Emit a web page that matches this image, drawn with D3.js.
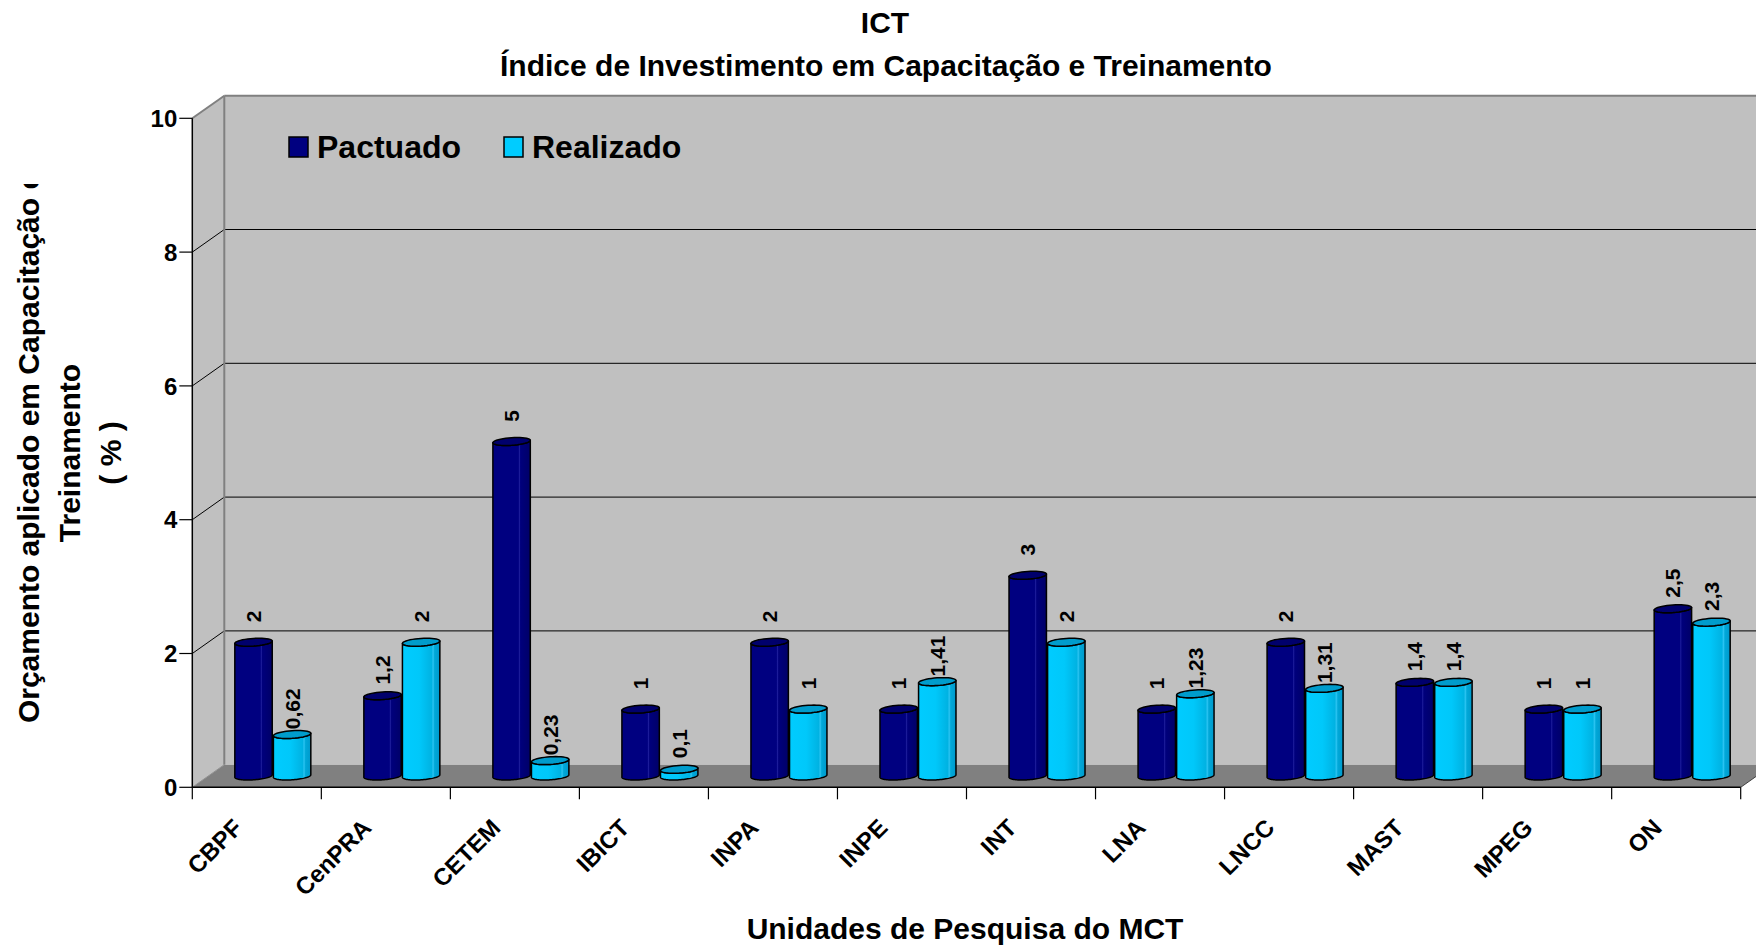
<!DOCTYPE html>
<html>
<head>
<meta charset="utf-8">
<script src="https://cdn.jsdelivr.net/npm/d3@7"></script>
<style>
  body { margin: 0; background: #fff; }
  svg { display: block; }
  text { font-family: "Liberation Sans", Arial, sans-serif; font-weight: bold; fill: #000; }
</style>
</head>
<body>
<div class="chart"></div>
<script>
var categories = ["CBPF", "CenPRA", "CETEM", "IBICT", "INPA", "INPE", "INT", "LNA", "LNCC", "MAST", "MPEG", "ON"];
var series = ["Pactuado", "Realizado"];
var pactuado = [2, 1.2, 5, 1, 2, 1, 3, 1, 2, 1.4, 1, 2.5];
var realizado = [0.62, 2, 0.23, 0.1, 1, 1.41, 2, 1.23, 1.31, 1.4, 1, 2.3];
var yTicks = [0, 2, 4, 6, 8, 10];

var width = 1756, height = 948;
var x0 = 192.3, x1 = 1740.7, yBottom = 787.3, yTop = 118.3;
var dx = 32, dy = 22.6;           // depth offset of the back wall
var pairWidth = 76;

var svg = d3.select(".chart").append("svg")
    .attr("width", width)
    .attr("height", height);

var defs = svg.append("defs");

function gradient(id, stops) {
    var g = defs.append("linearGradient").attr("id", id)
        .attr("x1", 0).attr("x2", 1).attr("y1", 0).attr("y2", 0);
    stops.forEach(function (s) {
        g.append("stop").attr("offset", s[0]).attr("stop-color", s[1]);
    });
}
gradient("gPact", [[0, "#000080"], [0.68, "#000080"], [0.71, "#1c1c9a"], [0.74, "#00007c"], [1, "#000068"]]);
gradient("gReal", [[0, "#00ccff"], [0.45, "#00c8fa"], [0.78, "#00b2e2"], [0.82, "#2ac4f2"], [0.86, "#00a8d8"], [1, "#0099cc"]]);

var colors = { Pactuado: "#000080", Realizado: "#00ccff" };
var bodyFill = { Pactuado: "url(#gPact)", Realizado: "url(#gReal)" };
var topFill = { Pactuado: "#00006c", Realizado: "#009ccc" };

var x = d3.scaleBand().domain(categories).range([x0, x1]);
var xs = d3.scaleBand().domain(series).range([0, pairWidth]).paddingInner(0.03);
var y = d3.scaleLinear().domain([0, 10]).range([yBottom, yTop]);

svg.append("clipPath").attr("id", "plotClip")
    .append("rect").attr("x", 0).attr("y", 0).attr("width", width).attr("height", height);

// walls and floor
var walls = svg.append("g");
walls.append("rect")
    .attr("x", x0 + dx).attr("y", yTop - dy)
    .attr("width", x1 - x0).attr("height", yBottom - yTop)
    .attr("fill", "#c0c0c0");
walls.append("path")
    .attr("d", d3.line()([[x0, yTop], [x0 + dx, yTop - dy], [x0 + dx, yBottom - dy], [x0, yBottom]]))
    .attr("fill", "#c0c0c0");
walls.append("path")
    .attr("d", d3.line()([[x0, yBottom], [x0 + dx, yBottom - dy], [x1 + dx, yBottom - dy], [x1, yBottom]]))
    .attr("fill", "#808080");

// gridlines on side and back walls
yTicks.filter(function (v) { return v > 0; }).forEach(function (v) {
    var c = v === 10 ? "#808080" : "#000";
    var w = v === 10 ? 2 : 1;
    walls.append("line")
        .attr("x1", x0).attr("y1", y(v)).attr("x2", x0 + dx).attr("y2", y(v) - dy)
        .attr("stroke", c).attr("stroke-width", w);
    walls.append("line")
        .attr("x1", x0 + dx).attr("y1", y(v) - dy).attr("x2", x1 + dx).attr("y2", y(v) - dy)
        .attr("stroke", c).attr("stroke-width", w);
});
walls.append("line")
    .attr("x1", x0 + dx).attr("y1", yTop - dy).attr("x2", x0 + dx).attr("y2", yBottom - dy)
    .attr("stroke", "#808080").attr("stroke-width", 2);
walls.append("line")
    .attr("x1", x0).attr("y1", yBottom).attr("x2", x0 + dx).attr("y2", yBottom - dy)
    .attr("stroke", "#909090").attr("stroke-width", 1);
walls.append("line")
    .attr("x1", x1).attr("y1", yBottom).attr("x2", x1 + dx).attr("y2", yBottom - dy)
    .attr("stroke", "#404040").attr("stroke-width", 1);

// y axis
var yAxis = svg.append("g");
yAxis.append("line")
    .attr("x1", x0).attr("y1", yTop).attr("x2", x0).attr("y2", yBottom)
    .attr("stroke", "#000").attr("stroke-width", 1.5);
yAxis.selectAll(".tick").data(yTicks).enter().append("line")
    .attr("x1", x0 - 13).attr("x2", x0)
    .attr("y1", function (d) { return y(d); }).attr("y2", function (d) { return y(d); })
    .attr("stroke", "#000").attr("stroke-width", 1.2);
yAxis.selectAll("text").data(yTicks).enter().append("text")
    .attr("x", x0 - 15)
    .attr("y", function (d) { return y(d); })
    .attr("dy", "0.36em")
    .attr("text-anchor", "end")
    .style("font-size", "24px")
    .text(function (d) { return d; });

// x axis
var xAxis = svg.append("g");
xAxis.append("line")
    .attr("x1", x0).attr("y1", yBottom).attr("x2", x1).attr("y2", yBottom)
    .attr("stroke", "#000").attr("stroke-width", 1.5);
var boundaries = categories.map(function (c) { return x(c); }).concat([x1]);
xAxis.selectAll(".tick").data(boundaries).enter().append("line")
    .attr("x1", function (d) { return d; }).attr("x2", function (d) { return d; })
    .attr("y1", yBottom).attr("y2", yBottom + 12)
    .attr("stroke", "#000").attr("stroke-width", 1.2);
xAxis.selectAll("text").data(categories).enter().append("text")
    .attr("transform", function (d) {
        return "translate(" + (x(d) + x.bandwidth() / 2 - 13) + "," + (yBottom + 42) + ") rotate(-45)";
    })
    .attr("text-anchor", "end")
    .style("font-size", "24px")
    .text(function (d) { return d; });

// cylinders
var rows = categories.map(function (c, i) {
    return { cat: c, values: [{ s: "Pactuado", v: pactuado[i] }, { s: "Realizado", v: realizado[i] }] };
});

var ry = 4, ax = ry * dx / dy;   // top ellipse flattened by the depth view

function ellipsePts(cx, cy, r, t0, t1) {
    return d3.range(0, 41).map(function (k) {
        var t = t0 + (t1 - t0) * k / 40;
        return [cx + r * Math.cos(t) + ax * Math.sin(t), cy - ry * Math.sin(t)];
    });
}

var bars = svg.append("g").attr("clip-path", "url(#plotClip)");
rows.forEach(function (row) {
    row.values.forEach(function (d) {
        var left = x(row.cat) + x.bandwidth() / 2 + dx / 2 - pairWidth / 2 + xs(d.s);
        var half = xs.bandwidth() / 2;
        var cx = left + half;
        var r = Math.sqrt(half * half - ax * ax);
        var tR = Math.atan2(ax, r), tL = tR + Math.PI;
        var yb = y(0) - dy / 2, yt = y(d.v) - dy / 2;
        var bottom = ellipsePts(cx, yb, r, tL, tR + 2 * Math.PI);
        var topFront = ellipsePts(cx, yt, r, tR + 2 * Math.PI, tL);
        var body = bottom.concat(topFront);
        bars.append("path")
            .attr("d", d3.line()(body) + "Z")
            .attr("fill", bodyFill[d.s])
            .attr("stroke", "#000").attr("stroke-width", 1.5)
            .attr("stroke-linejoin", "round");
        bars.append("path")
            .attr("d", d3.line()(ellipsePts(cx, yt, r, 0, 2 * Math.PI)) + "Z")
            .attr("fill", topFill[d.s])
            .attr("stroke", "#000").attr("stroke-width", 1.5);
        bars.append("text")
            .attr("transform", "translate(" + cx + "," + (y(d.v) - 37) + ") rotate(-90)")
            .attr("text-anchor", "middle")
            .attr("dy", "0.36em")
            .style("font-size", "21px")
            .text(String(d.v).replace(".", ","));
    });
});

// legend
var legend = svg.append("g");
var legendX = { Pactuado: 289, Realizado: 504 };
series.forEach(function (s) {
    legend.append("rect")
        .attr("x", legendX[s]).attr("y", 137)
        .attr("width", 19).attr("height", 20)
        .attr("fill", colors[s]).attr("stroke", "#000").attr("stroke-width", 1.5);
    legend.append("text")
        .attr("x", legendX[s] + 28).attr("y", 158)
        .style("font-size", "32px")
        .text(s);
});

// titles
svg.append("text")
    .attr("x", 885).attr("y", 33)
    .attr("text-anchor", "middle")
    .style("font-size", "30px")
    .text("ICT");
svg.append("text")
    .attr("x", 886).attr("y", 76)
    .attr("text-anchor", "middle")
    .style("font-size", "30px")
    .text("Índice de Investimento em Capacitação e Treinamento");

svg.append("text")
    .attr("x", 965).attr("y", 939)
    .attr("text-anchor", "middle")
    .style("font-size", "30px")
    .text("Unidades de Pesquisa do MCT");

svg.append("clipPath").attr("id", "yTitleClip")
    .append("rect").attr("x", 0).attr("y", 184).attr("width", 140).attr("height", 700);
var yTitle = svg.append("g").attr("clip-path", "url(#yTitleClip)");
["Orçamento aplicado em Capacitação e", "Treinamento", "( % )"].forEach(function (t, i) {
    yTitle.append("text")
        .attr("transform", "translate(" + (39 + i * 41) + "," + (i === 0 ? 448 : 453) + ") rotate(-90)")
        .attr("text-anchor", "middle")
        .style("font-size", "30px")
        .text(t);
});
</script>
</body>
</html>
